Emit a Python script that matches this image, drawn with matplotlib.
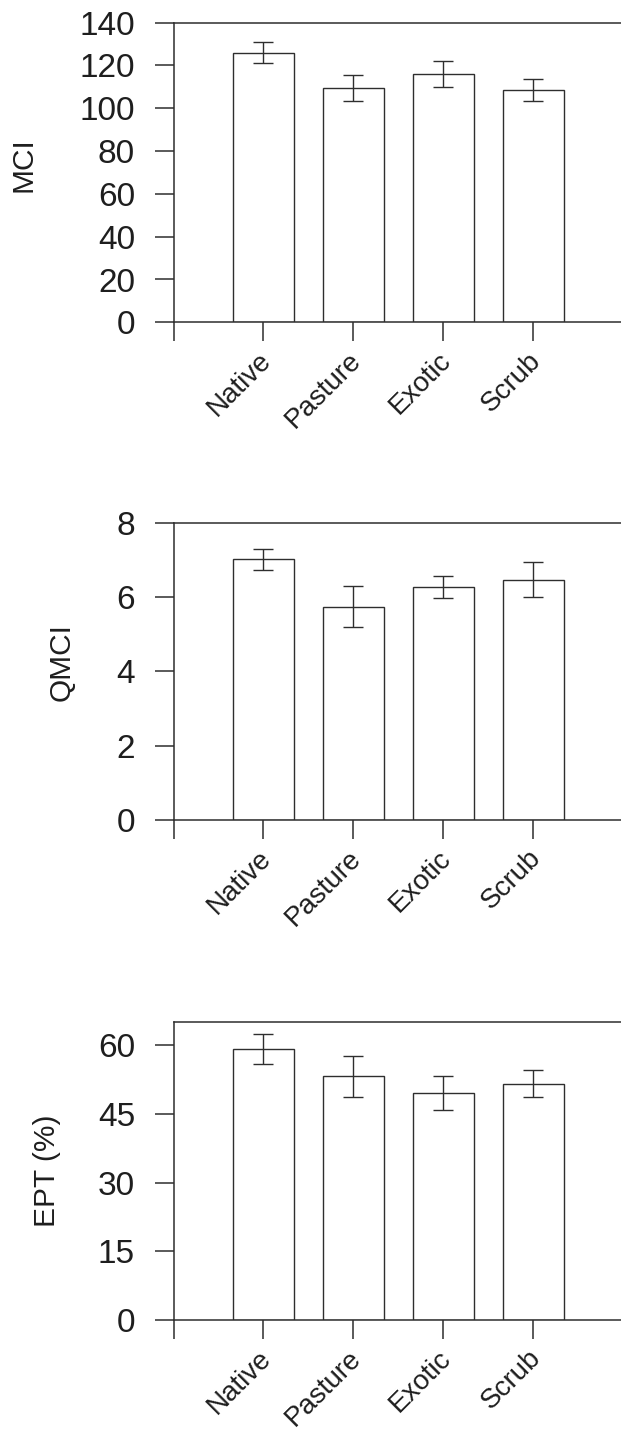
import matplotlib
matplotlib.use("Agg")
import matplotlib.pyplot as plt
from matplotlib.transforms import ScaledTranslation

plt.rcParams['font.family'] = ['Liberation Sans', 'DejaVu Sans']

# Invertebrate indices by riparian land use (mean and standard error)
habitats = ["Native", "Pasture", "Exotic", "Scrub"]

mci_mean = [126.0, 109.5, 116.0, 108.5]
mci_se = [4.9, 6.0, 6.1, 5.3]

qmci_mean = [7.01, 5.74, 6.27, 6.47]
qmci_se = [0.27, 0.55, 0.30, 0.47]

ept_mean = [59.1, 53.2, 49.5, 51.6]
ept_se = [3.25, 4.5, 3.7, 2.95]

mci_ticks = [0, 20, 40, 60, 80, 100, 120, 140]
qmci_ticks = [0, 2, 4, 6, 8]
ept_ticks = [0, 15, 30, 45, 60]

W, H, DPI = 621, 1429, 100
INK = "#2e2e2e"
TXT = "#1e1e1e"

fig = plt.figure(figsize=(W / DPI, H / DPI), dpi=DPI)

# (label, means, errors, ticks, y max, top px, bottom px, label x px, label y frac)
panels = [
    ("MCI", mci_mean, mci_se, mci_ticks, 140, 22.7, 322.3, 24, 0.525),
    ("QMCI", qmci_mean, qmci_se, qmci_ticks, 8, 522.7, 820.0, 62, 0.53),
    ("EPT (%)", ept_mean, ept_se, ept_ticks, 65, 1022.3, 1320.0, 47, 0.50),
]

left_px, width_px = 173.5, 449.5

for label, means, errs, ticks, ymax, top, bot, lab_x, lab_y in panels:
    ax = fig.add_axes([left_px / W, 1 - bot / H, width_px / W, (bot - top) / H])
    pos = list(range(1, len(habitats) + 1))
    ax.bar(pos, means, width=0.68, color="white", edgecolor=INK, linewidth=1.0,
           yerr=errs, capsize=7.5,
           error_kw=dict(elinewidth=1.0, capthick=1.0, ecolor=INK))
    ax.set_xlim(0, 5)
    ax.set_ylim(0, ymax)
    ax.set_yticks(ticks)
    ax.set_yticklabels([str(t) for t in ticks])
    ax.set_xticks([0] + pos)
    ax.set_xticklabels([""] + habitats)

    for s in ax.spines.values():
        s.set_color(INK)
        s.set_linewidth(1.1)

    ax.tick_params(axis="y", direction="out", length=13.7, width=1.1, color=INK,
                   labelsize=24, labelcolor=TXT, pad=14)
    ax.tick_params(axis="x", direction="out", length=13.5, width=1.1, color=INK,
                   labelsize=20, labelcolor=TXT, pad=4.5)

    shift = ScaledTranslation(-3.5 / 72, 0, fig.dpi_scale_trans)
    for lbl in ax.get_xticklabels():
        lbl.set_rotation(45)
        lbl.set_ha("right")
        lbl.set_va("top")
        lbl.set_rotation_mode("anchor")
        lbl.set_transform(lbl.get_transform() + shift)

    ax.set_ylabel(label, fontsize=21.5, color=TXT)
    ax.yaxis.label.set_va("center")
    ax.yaxis.set_label_coords((lab_x - left_px) / width_px, lab_y)

fig.savefig("out.png", dpi=DPI, facecolor="white")
